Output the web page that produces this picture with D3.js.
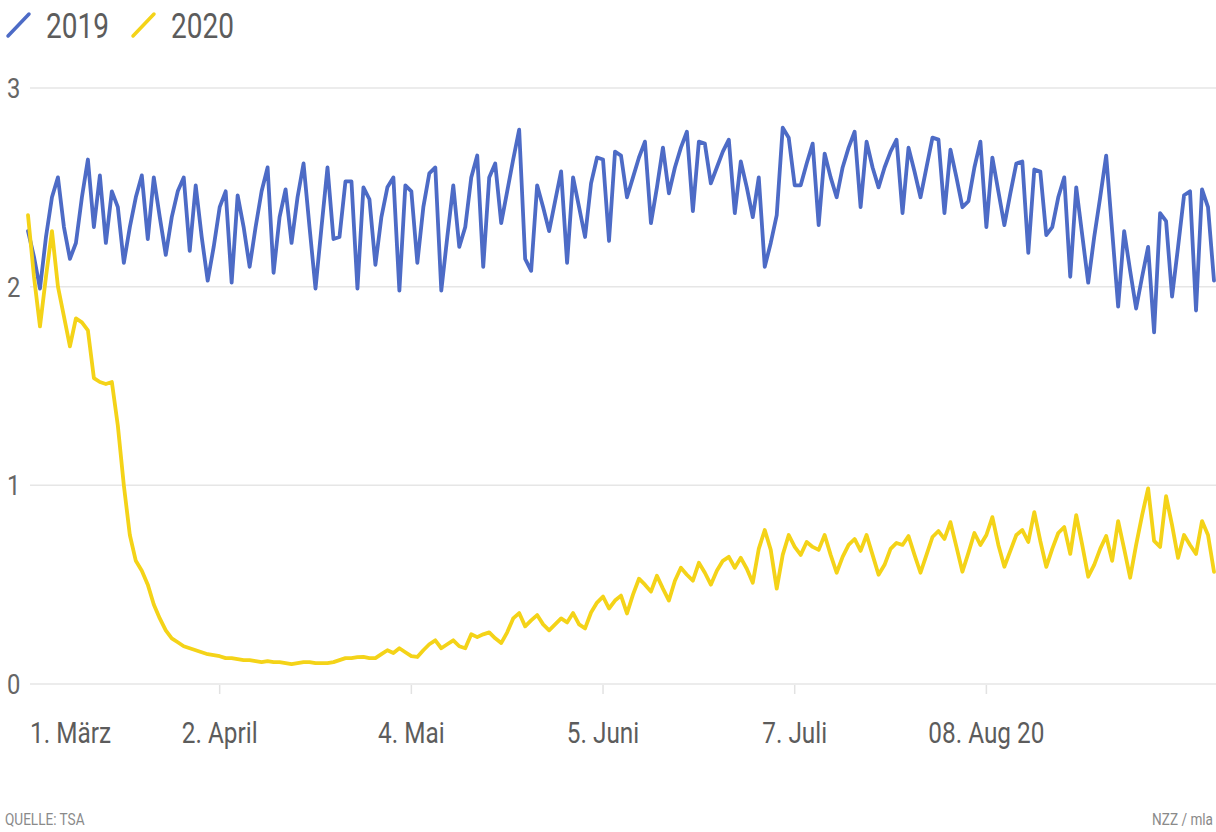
<!DOCTYPE html>
<meta charset="utf-8">
<style>
body { margin: 0; background: #fff; }
svg text { font-family: "Roboto", "Noto Sans", sans-serif; }
.grid line { stroke: #e6e6e6; stroke-width: 1.5px; }
.ylab { fill: #666; font-size: 28px; }
.xlab { fill: #5c5c5c; font-size: 29px; }
.legend text { fill: #5c5c5c; font-size: 35px; }
.foot { fill: #8a8a8a; font-size: 17px; }
.line { fill: none; stroke-width: 3.8px; stroke-linejoin: round; stroke-linecap: round; }
</style>
<body>
<script src="https://cdn.jsdelivr.net/npm/d3@7"></script>
<script>

// daily values in millions, starting 1 March 2020 (2019 = same weekday one year earlier)
var startDate = "2020-03-01";

var values2019 = [
  2.28, 2.15, 1.99, 2.25, 2.45, 2.55, 2.30, 2.14, 2.22, 2.45,
  2.64, 2.30, 2.56, 2.22, 2.48, 2.40, 2.12, 2.30, 2.45, 2.56,
  2.24, 2.55, 2.35, 2.16, 2.35, 2.48, 2.55, 2.18, 2.51, 2.25,
  2.03, 2.20, 2.40, 2.48, 2.02, 2.46, 2.30, 2.10, 2.30, 2.48,
  2.60, 2.07, 2.35, 2.49, 2.22, 2.45, 2.62, 2.30, 1.99, 2.30,
  2.60, 2.24, 2.25, 2.53, 2.53, 1.99, 2.50, 2.44, 2.11, 2.35,
  2.50, 2.55, 1.98, 2.51, 2.48, 2.12, 2.40, 2.57, 2.60, 1.98,
  2.25, 2.51, 2.20, 2.30, 2.55, 2.66, 2.10, 2.55, 2.62, 2.32,
  2.48, 2.64, 2.79, 2.14, 2.08, 2.51, 2.40, 2.28, 2.43, 2.58,
  2.12, 2.55, 2.40, 2.25, 2.52, 2.65, 2.64, 2.23, 2.68, 2.66,
  2.45, 2.55, 2.65, 2.73, 2.32, 2.50, 2.70, 2.47, 2.60, 2.70,
  2.78, 2.38, 2.73, 2.72, 2.52, 2.60, 2.68, 2.74, 2.37, 2.63,
  2.50, 2.35, 2.55, 2.10, 2.22, 2.36, 2.80, 2.75, 2.51, 2.51,
  2.62, 2.72, 2.31, 2.67, 2.55, 2.45, 2.60, 2.70, 2.78, 2.40,
  2.73, 2.60, 2.50, 2.60, 2.68, 2.74, 2.37, 2.70, 2.58, 2.45,
  2.60, 2.75, 2.74, 2.37, 2.69, 2.55, 2.40, 2.43, 2.60, 2.73,
  2.30, 2.65, 2.48, 2.31, 2.47, 2.62, 2.63, 2.17, 2.59, 2.58,
  2.26, 2.30, 2.45, 2.55, 2.05, 2.50, 2.26, 2.02, 2.25, 2.45,
  2.66, 2.28, 1.90, 2.28, 2.08, 1.89, 2.05, 2.20, 1.77, 2.37,
  2.33, 1.95, 2.20, 2.46, 2.48, 1.88, 2.49, 2.40, 2.03
];

var values2020 = [
  2.36, 2.05, 1.80, 2.05, 2.28, 2.00, 1.85, 1.70, 1.84, 1.82,
  1.78, 1.54, 1.52, 1.51, 1.52, 1.30, 1.00, 0.75, 0.62, 0.57,
  0.50, 0.40, 0.33, 0.27, 0.23, 0.21, 0.19, 0.18, 0.17, 0.16,
  0.15, 0.145, 0.14, 0.13, 0.13, 0.125, 0.12, 0.12, 0.115, 0.11,
  0.115, 0.11, 0.11, 0.105, 0.10, 0.105, 0.11, 0.11, 0.105, 0.105,
  0.105, 0.11, 0.12, 0.13, 0.13, 0.135, 0.136, 0.13, 0.13, 0.15,
  0.17, 0.156, 0.18, 0.16, 0.14, 0.136, 0.17, 0.20, 0.22, 0.18,
  0.20, 0.22, 0.19, 0.18, 0.25, 0.236, 0.25, 0.26, 0.23, 0.206,
  0.26, 0.33, 0.357, 0.29, 0.32, 0.347, 0.30, 0.27, 0.30, 0.33,
  0.31, 0.357, 0.30, 0.28, 0.36, 0.41, 0.44, 0.38, 0.42, 0.445,
  0.355, 0.45, 0.53, 0.50, 0.465, 0.545, 0.48, 0.42, 0.52, 0.585,
  0.55, 0.52, 0.61, 0.56, 0.50, 0.57, 0.62, 0.64, 0.585, 0.635,
  0.58, 0.51, 0.68, 0.775, 0.675, 0.48, 0.65, 0.75, 0.69, 0.65,
  0.715, 0.69, 0.675, 0.75, 0.65, 0.56, 0.64, 0.70, 0.73, 0.67,
  0.75, 0.65, 0.55, 0.60, 0.68, 0.71, 0.70, 0.745, 0.65, 0.56,
  0.65, 0.74, 0.77, 0.73, 0.815, 0.69, 0.565, 0.66, 0.76, 0.70,
  0.75, 0.84, 0.70, 0.59, 0.67, 0.75, 0.775, 0.715, 0.865, 0.72,
  0.59, 0.68, 0.76, 0.79, 0.655, 0.85, 0.70, 0.54, 0.60, 0.68,
  0.745, 0.62, 0.82, 0.68, 0.535, 0.70, 0.85, 0.985, 0.72, 0.69,
  0.945, 0.80, 0.635, 0.75, 0.70, 0.655, 0.82, 0.75, 0.565
];

var seriesNames = ["2019", "2020"];
var seriesColors = ["#4d6bc6", "#f4d318"];

var tickDates = ["2020-03-01", "2020-04-02", "2020-05-04", "2020-06-05", "2020-07-07", "2020-08-08"];
var tickLabels = ["1. März", "2. April", "4. Mai", "5. Juni", "7. Juli", "08. Aug 20"];
var yTicks = [0, 1, 2, 3];

var width = 1216, height = 832;
var parseDate = d3.timeParse("%Y-%m-%d");
var start = parseDate(startDate);

function toPoints(vals) {
  return vals.map(function(v, i) { return {date: d3.timeDay.offset(start, i), value: v}; });
}
var data2019 = toPoints(values2019),
    data2020 = toPoints(values2020);

var x = d3.scaleTime()
    .domain([start, d3.timeDay.offset(start, values2020.length - 1)])
    .range([28, 1214]);
var y = d3.scaleLinear().domain([0, 3]).range([684, 88]);

var svg = d3.select("body").append("svg")
    .attr("width", width)
    .attr("height", height);

// the NZZ font is a condensed face, so squeeze text horizontally
function narrowText(sel, px, py, sx) {
  return sel.attr("transform", "translate(" + px + "," + py + ") scale(" + sx + ",1)");
}

// legend
var legend = svg.append("g").attr("class", "legend");
var legendX = [8, 133];
seriesNames.forEach(function(name, i) {
  legend.append("line")
      .attr("x1", legendX[i]).attr("y1", 36)
      .attr("x2", legendX[i] + 21).attr("y2", 14)
      .attr("stroke", seriesColors[i])
      .attr("stroke-width", 3.5)
      .attr("stroke-linecap", "round");
  narrowText(legend.append("text"), legendX[i] + 38, 38, 0.8)
      .text(name);
});

// gridlines + y labels
var grid = svg.append("g").attr("class", "grid");
grid.selectAll("line")
    .data(yTicks)
  .enter().append("line")
    .attr("x1", 30).attr("x2", width)
    .attr("y1", function(d) { return y(d); })
    .attr("y2", function(d) { return y(d); });

yTicks.forEach(function(d) {
  narrowText(svg.append("text").attr("class", "ylab"), 7, y(d) + 10, 0.85)
      .text(d);
});

// x axis ticks and labels
var ticks = tickDates.map(parseDate);
svg.selectAll(".xtick")
    .data(ticks.slice(1))
  .enter().append("line")
    .attr("class", "xtick")
    .attr("x1", function(d) { return x(d); })
    .attr("x2", function(d) { return x(d); })
    .attr("y1", 685).attr("y2", 694)
    .attr("stroke", "#e2e2e2")
    .attr("stroke-width", 1.5);

ticks.forEach(function(d, i) {
  narrowText(svg.append("text").attr("class", "xlab"), i === 0 ? 30 : x(d), 743, 0.84)
      .attr("text-anchor", i === 0 ? "start" : "middle")
      .text(tickLabels[i]);
});

// lines
var line = d3.line()
    .x(function(d) { return x(d.date); })
    .y(function(d) { return y(d.value); });

[data2019, data2020].forEach(function(d, i) {
  svg.append("path")
      .datum(d)
      .attr("class", "line")
      .attr("stroke", seriesColors[i])
      .attr("d", line);
});

// footer
narrowText(svg.append("text").attr("class", "foot"), 5, 825, 0.8)
    .text("QUELLE: TSA");
narrowText(svg.append("text").attr("class", "foot"), 1213, 825, 0.8)
    .attr("text-anchor", "end")
    .text("NZZ / mla");

</script>
</body>
